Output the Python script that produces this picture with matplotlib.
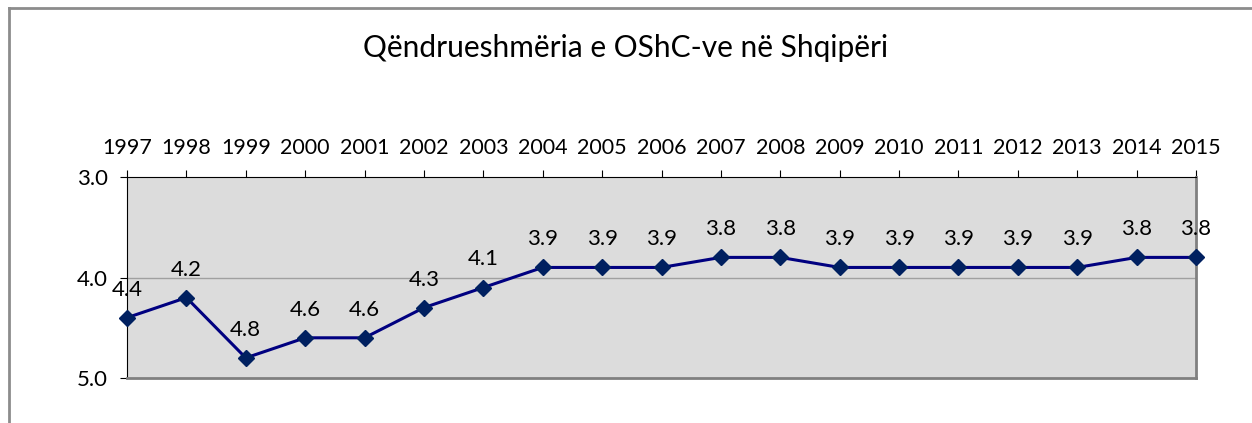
import matplotlib.pyplot as plt
from matplotlib.lines import Line2D

vitet = ['1997', '1998', '1999', '2000', '2001', '2002', '2003', '2004', '2005', '2006',
         '2007', '2008', '2009', '2010', '2011', '2012', '2013', '2014', '2015']
vlerat = [4.4, 4.2, 4.8, 4.6, 4.6, 4.3, 4.1, 3.9, 3.9, 3.9,
          3.8, 3.8, 3.9, 3.9, 3.9, 3.9, 3.9, 3.8, 3.8]
titulli = 'Qëndrueshmëria e OShC-ve në Shqipëri'

plt.rcParams['font.family'] = ['Lato', 'DejaVu Sans']

fig = plt.figure(figsize=(12.52, 4.23), dpi=100)

# korniza e jashtme (vetem majtas dhe lart)
fig.add_artist(Line2D([9 / 1252, 9 / 1252], [0, 1 - 8 / 423], transform=fig.transFigure,
                      color='#8c8c8c', lw=2))
fig.add_artist(Line2D([9 / 1252, 1], [1 - 8 / 423, 1 - 8 / 423], transform=fig.transFigure,
                      color='#8c8c8c', lw=2))

ax = fig.add_axes([127 / 1252, 45 / 423, (1196 - 127) / 1252, (378 - 177) / 423])
ax.set_facecolor('#dcdcdc')

x = list(range(len(vitet)))
ax.plot(x, vlerat, color='#000080', lw=2.2, marker='D', markersize=8,
        markerfacecolor='#002060', markeredgecolor='#002060', zorder=3, clip_on=False)

for xi, v in zip(x, vlerat):
    ax.annotate(f'{v:.1f}', (xi, v), xytext=(0, 13), textcoords='offset points',
                ha='center', va='bottom', fontsize=16)

ax.set_xlim(0, len(vitet) - 1)
ax.set_ylim(5.0, 3.0)
ax.set_yticks([3.0, 4.0, 5.0])
ax.set_yticklabels(['3.0', '4.0', '5.0'], fontsize=16)
ax.set_xticks(x)
ax.set_xticklabels(vitet, fontsize=15.5)
ax.xaxis.tick_top()
ax.tick_params(axis='x', direction='out', length=5, pad=8.5)
ax.tick_params(axis='y', direction='out', length=5, pad=9)
ax.axhline(4.0, color='#a0a0a0', lw=1, zorder=1)

ax.spines['left'].set_color('#000000')
ax.spines['top'].set_color('#000000')
ax.spines['right'].set_color('#808080')
ax.spines['bottom'].set_color('#808080')
ax.spines['right'].set_linewidth(2)
ax.spines['bottom'].set_linewidth(2)

fig.text(0.5, 1 - 48 / 423, titulli, ha='center', va='center', fontsize=21.5)

fig.savefig('out.png', dpi=100)
